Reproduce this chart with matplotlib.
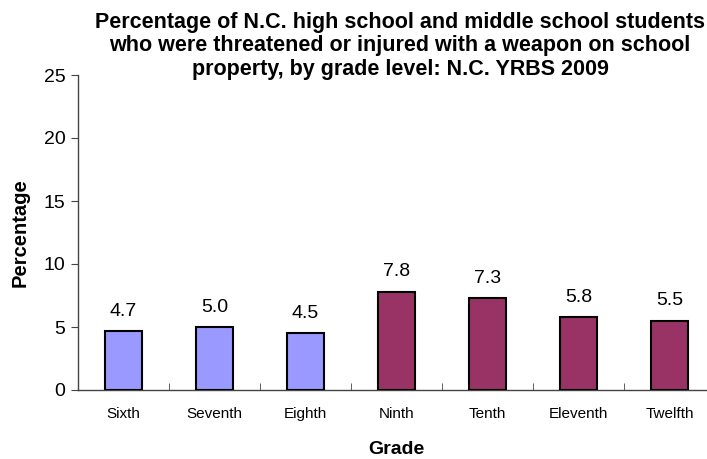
import matplotlib
matplotlib.use("Agg")
import matplotlib.pyplot as plt

grades = ["Sixth", "Seventh", "Eighth", "Ninth", "Tenth", "Eleventh", "Twelfth"]
values = [4.7, 5.0, 4.5, 7.8, 7.3, 5.8, 5.5]
colors = ["#9999FF"] * 3 + ["#993366"] * 4
yticks = [0, 5, 10, 15, 20, 25]

plt.rcParams["font.family"] = ["Liberation Sans", "DejaVu Sans"]

fig = plt.figure(figsize=(7.07, 4.59), dpi=100)
ax = fig.add_axes([78 / 707, 1 - 390 / 459, 637 / 707, (390 - 75) / 459])

x = list(range(len(grades)))
ax.bar(x, values, width=0.4, color=colors, edgecolor="black", linewidth=1.5, zorder=3)
for xi, v in zip(x, values):
    ax.annotate(f"{v:.1f}", (xi, v), xytext=(0, 11), textcoords="offset points",
                ha="center", va="baseline", fontsize=14)

ax.set_xlim(-0.5, len(grades) - 0.5)
ax.set_ylim(0, 25)
ax.set_yticks(yticks)
ax.set_yticklabels([str(t) for t in yticks], fontsize=14)
ax.set_xticks(x)
ax.set_xticklabels(grades, fontsize=11)
ax.set_xticks([i + 0.5 for i in x[:-1]], minor=True)
ax.tick_params(axis="x", which="major", length=0, pad=12)
ax.tick_params(axis="x", which="minor", length=5, direction="in", color="#444444")
ax.tick_params(axis="y", length=5, direction="out", color="#444444", pad=4)

for s in ["top", "right"]:
    ax.spines[s].set_visible(False)
for s in ["left", "bottom"]:
    ax.spines[s].set_color("#444444")
    ax.spines[s].set_linewidth(1.0)

ax.set_ylabel("Percentage", fontsize=14.5, fontweight="bold", labelpad=10)
ax.set_xlabel("Grade", fontsize=14, fontweight="bold", labelpad=15)

fig.text(400 / 707, 1 - 46 / 459,
         "Percentage of N.C. high school and middle school students\n"
         "who were threatened or injured with a weapon on school\n"
         "property, by grade level: N.C. YRBS 2009",
         ha="center", va="center", fontsize=15.5, fontweight="bold", linespacing=1.15)

fig.savefig("out.png", dpi=100)
